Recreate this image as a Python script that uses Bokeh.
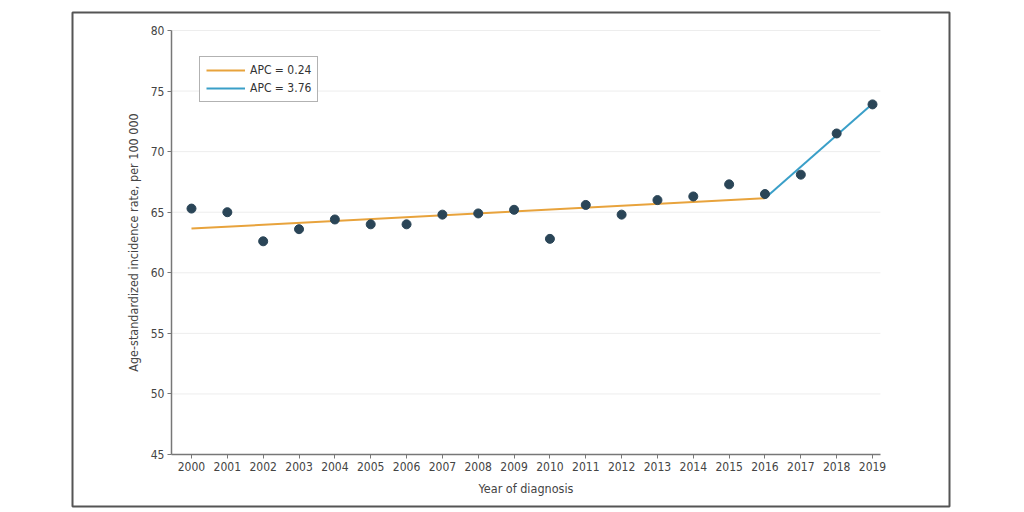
from bokeh.plotting import figure
from bokeh.models import FixedTicker, Range1d, Legend, LegendItem, LinearAxis
from bokeh.embed import file_html
from bokeh.resources import INLINE

years = list(range(2000, 2020))
rates = [65.3, 65.0, 62.6, 63.6, 64.4, 64.0, 64.0, 64.8, 64.9, 65.2,
         62.8, 65.6, 64.8, 66.0, 66.3, 67.3, 66.5, 68.1, 71.5, 73.9]

fit1_years = [2000, 2016]
fit1_vals = [63.65, 66.15]
fit2_years = [2016, 2019]
fit2_vals = [66.15, 73.95]

y_ticks = [45, 50, 55, 60, 65, 70, 75, 80]
grid_ticks = [50, 55, 60, 65, 70, 75, 80]
labels = ["APC = 0.24", "APC = 3.76"]

# layout constants (axis placement inside the framed box)
X_AXIS_START = 1999.44
X_AXIS_END = 2019.22
GRID_END = 2019.22
Y_MIN, Y_MAX = 45, 80

FONT = "DejaVu Sans Condensed"

p = figure(width=1008, height=508, output_backend="svg", toolbar_location=None,
           x_range=Range1d(1996.68, 2021.148), y_range=Range1d(40.707, 81.486),
           x_axis_location=None, y_axis_location=None,
           min_border_left=72, min_border_right=59, min_border_top=12, min_border_bottom=2)
p.outline_line_color = "#555555"
p.outline_line_width = 2
p.background_fill_color = "white"
p.border_fill_color = "white"
p.xgrid.visible = False
p.ygrid.visible = False

# horizontal grid lines
p.segment(x0=[X_AXIS_START] * len(grid_ticks), x1=[GRID_END] * len(grid_ticks),
          y0=grid_ticks, y1=grid_ticks, line_color="#ededed", line_width=1)

xaxis = LinearAxis(fixed_location=Y_MIN, bounds=(X_AXIS_START, X_AXIS_END),
                   ticker=FixedTicker(ticks=years), axis_label="Year of diagnosis")
yaxis = LinearAxis(fixed_location=X_AXIS_START, bounds=(Y_MIN, Y_MAX),
                   ticker=FixedTicker(ticks=y_ticks),
                   axis_label="Age-standardized incidence rate, per 100 000")
for ax in (xaxis, yaxis):
    ax.axis_line_color = "#777777"
    ax.axis_line_width = 1.5
    ax.major_tick_line_color = "#777777"
    ax.minor_tick_line_color = None
    ax.major_label_text_font = FONT
    ax.major_label_text_font_size = "12px"
    ax.major_label_text_color = "#444444"
    ax.axis_label_text_font = FONT
    ax.axis_label_text_font_size = "12.5px"
    ax.axis_label_text_color = "#444444"
    ax.axis_label_text_font_style = "normal"
    ax.major_tick_in = 0
    ax.major_tick_out = 4
xaxis.major_label_standoff = 4
yaxis.major_label_standoff = 3
xaxis.axis_label_standoff = 6
yaxis.axis_label_standoff = 7
p.add_layout(xaxis, "below")
p.add_layout(yaxis, "left")

r1 = p.line(fit1_years, fit1_vals, line_color="#e8a33c", line_width=2)
r2 = p.line(fit2_years, fit2_vals, line_color="#3a9fc8", line_width=2)
p.scatter(years, rates, size=9, fill_color="#2a4557", line_color="#2a4557")

legend = Legend(items=[LegendItem(label=labels[0], renderers=[r1]),
                       LegendItem(label=labels[1], renderers=[r2])],
                location=(127, 404))
legend.border_line_color = "#666666"
legend.border_line_width = 1
legend.label_text_font = FONT
legend.label_text_font_size = "12px"
legend.label_text_color = "#333333"
legend.glyph_width = 39
legend.glyph_height = 14
legend.label_height = 14
legend.spacing = 4
legend.padding = 6
legend.margin = 0
legend.label_standoff = 5
legend.background_fill_alpha = 1
p.add_layout(legend)

open("out.html", "w").write(file_html(p, INLINE))
